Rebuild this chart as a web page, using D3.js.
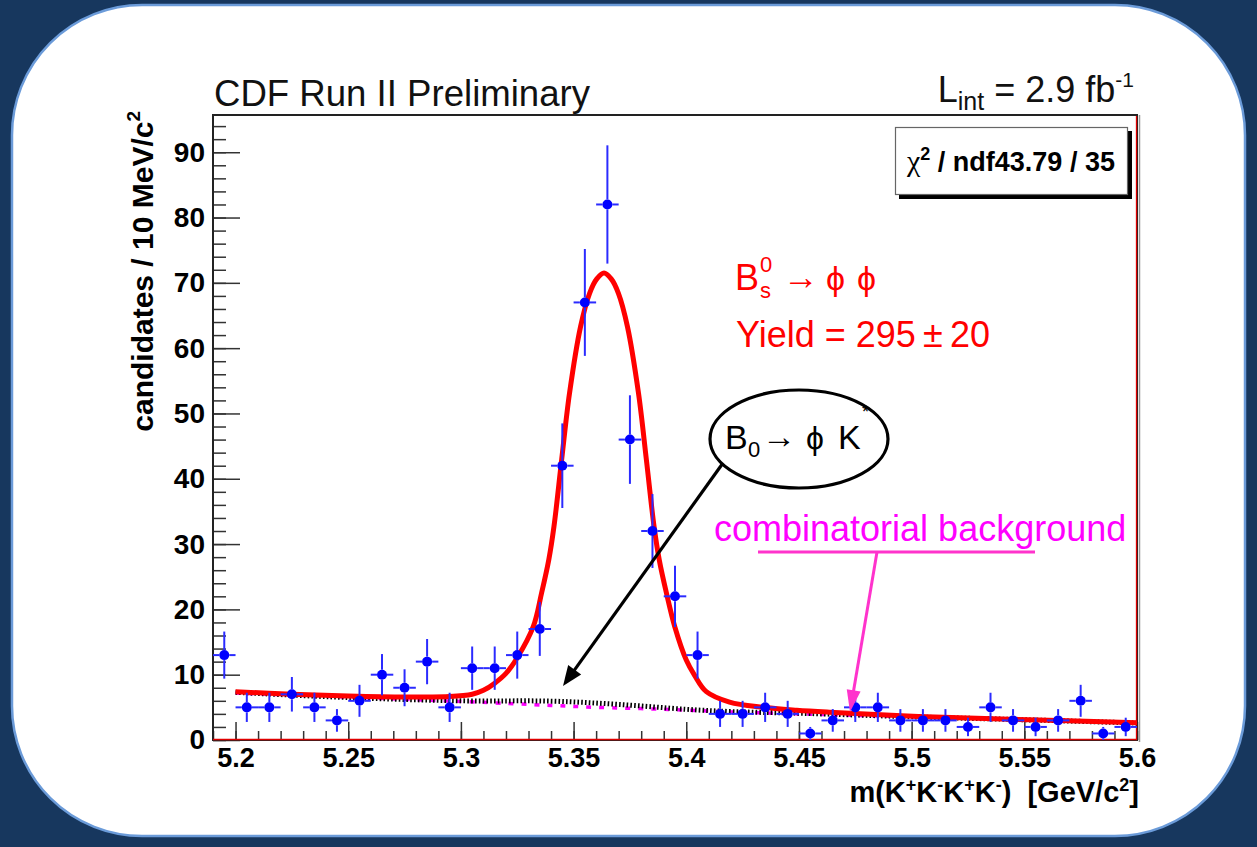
<!DOCTYPE html>
<html>
<head>
<meta charset="utf-8">
<script src="https://cdn.jsdelivr.net/npm/d3@7"></script>
<style>
  html, body { margin: 0; padding: 0; background: #17375e; }
  svg { display: block; }
  text { font-family: "Liberation Sans", Arial, Helvetica, sans-serif; }
</style>
</head>
<body>
<svg id="chart" width="1257" height="847"></svg>
<script>
// ---- histogram: Bs -> phi phi candidates, 10 MeV/c^2 bins ----
const binCenters = [5.195, 5.205, 5.215, 5.225, 5.235, 5.245, 5.255, 5.265, 5.275, 5.285,
                    5.295, 5.305, 5.315, 5.325, 5.335, 5.345, 5.355, 5.365, 5.375, 5.385,
                    5.395, 5.405, 5.415, 5.425, 5.435, 5.445, 5.455, 5.465, 5.475, 5.485,
                    5.495, 5.505, 5.515, 5.525, 5.535, 5.545, 5.555, 5.565, 5.575, 5.585,
                    5.595];
const counts = [13, 5, 5, 7, 5, 3, 6, 10, 8, 12,
                5, 11, 11, 13, 17, 42, 67, 82, 46, 32,
                22, 13, 4, 4, 5, 4, 1, 3, 5, 5,
                3, 3, 3, 2, 5, 3, 2, 3, 6, 1,
                2];
const binHalfWidth = 0.005;

// ---- total fit (signal + reflection + combinatorial) ----
const fitMass = [5.200, 5.225, 5.250, 5.275, 5.295, 5.305, 5.310, 5.315, 5.320, 5.325,
                 5.3321, 5.3358, 5.3390, 5.3413, 5.3447, 5.3482, 5.3531, 5.3571, 5.3603, 5.3635,
                 5.3667, 5.3699, 5.3739, 5.3788, 5.3823, 5.3857, 5.3880, 5.3912, 5.3949, 5.4000,
                 5.4037, 5.4089, 5.4192, 5.434, 5.449, 5.4635, 5.503, 5.5475, 5.600];
const fitTotal = [7.4, 7.0, 6.75, 6.6, 6.65, 7.0, 7.6, 8.7, 10.2, 12.6,
                  17.35, 22.5, 27.6, 32.7, 42.9, 53.1, 63.3, 68.4, 70.6, 71.5,
                  70.6, 68.4, 63.3, 53.1, 42.9, 32.7, 27.6, 22.5, 17.35, 12.25,
                  9.9, 7.4, 5.8, 5.0, 4.55, 4.25, 3.6, 3.15, 2.65];

// ---- B0 -> phi K* reflection stacked on combinatorial ----
const bkgMass = [5.20, 5.25, 5.30, 5.34, 5.37, 5.40, 5.42, 5.45, 5.50, 5.55, 5.60];
const bkgTotal = [7.3, 6.5, 6.0, 5.95, 5.45, 4.7, 4.35, 4.1, 3.55, 3.1, 2.6];

// ---- combinatorial background alone ----
const combMass = [5.20, 5.30, 5.34, 5.36, 5.39, 5.42, 5.45, 5.50, 5.55, 5.60];
const combValues = [7.2, 5.9, 5.3, 5.0, 4.7, 4.3, 4.0, 3.55, 3.1, 2.6];

// ---- axis ticks ----
const xMajorTicks = [5.2, 5.25, 5.3, 5.35, 5.4, 5.45, 5.5, 5.55, 5.6];
const xTickLabels = ["5.2", "5.25", "5.3", "5.35", "5.4", "5.45", "5.5", "5.55", "5.6"];
const yMajorTicks = [0, 10, 20, 30, 40, 50, 60, 70, 80, 90];

// ---------------------------------------------------------------
const W = 1257, H = 847;
const P = { left: 213, right: 1137, top: 115, bottom: 740 };
const FONT = '"Liberation Sans", Arial, Helvetica, sans-serif';
const SYMFONT = '"DejaVu Sans", sans-serif';

const svg = d3.select("#chart");

// slide backdrop
svg.append("rect").attr("width", W).attr("height", H).attr("fill", "#17375e");
svg.append("rect")
  .attr("x", 12).attr("y", 5).attr("width", 1233).attr("height", 831)
  .attr("rx", 130).attr("ry", 130)
  .attr("fill", "#ffffff").attr("stroke", "#6b9bd9").attr("stroke-width", 2.5);

const x = d3.scaleLinear().domain([5.19, 5.6]).range([P.left, P.right]);
const y = d3.scaleLinear().domain([0, 95.7]).range([P.bottom, P.top]);

// ---- ticks (drawn inward) ----
const xMinor = d3.range(5.19, 5.6001, 0.01).map(v => +v.toFixed(3));
const yMinor = d3.range(0, 95, 2);

const xAxisMinor = d3.axisBottom(x).tickValues(xMinor).tickSizeInner(-9).tickSizeOuter(0).tickFormat("");
const xAxis = d3.axisBottom(x).tickValues(xMajorTicks).tickSizeInner(-18).tickSizeOuter(0)
  .tickPadding(8).tickFormat((d, i) => xTickLabels[i]);
const yAxisMinor = d3.axisLeft(y).tickValues(yMinor).tickSizeInner(-13).tickSizeOuter(0).tickFormat("");
const yAxis = d3.axisLeft(y).tickValues(yMajorTicks).tickSizeInner(-27).tickSizeOuter(0)
  .tickPadding(8).tickFormat(d3.format("d"));

function styleAxis(g, size) {
  g.select(".domain").remove();
  g.selectAll(".tick line").attr("stroke", "#333").attr("stroke-width", 1.5);
  g.selectAll(".tick text")
    .attr("fill", "#000").attr("font-family", FONT)
    .attr("font-weight", "bold").attr("font-size", size);
}

svg.append("g").attr("transform", `translate(0,${P.bottom})`).call(xAxisMinor).call(styleAxis, 27);
svg.append("g").attr("transform", `translate(0,${P.bottom})`).call(xAxis).call(styleAxis, 27);
svg.append("g").attr("transform", `translate(${P.left},0)`).call(yAxisMinor).call(styleAxis, 28);
svg.append("g").attr("transform", `translate(${P.left},0)`).call(yAxis).call(styleAxis, 28);

// ---- frame ----
svg.append("line").attr("x1", P.right + 2.5).attr("x2", P.right + 2.5)
  .attr("y1", P.top).attr("y2", P.bottom + 2).attr("stroke", "#999").attr("stroke-width", 1.5);
svg.append("rect")
  .attr("x", P.left).attr("y", P.top)
  .attr("width", P.right - P.left).attr("height", P.bottom - P.top)
  .attr("fill", "none").attr("stroke", "#222").attr("stroke-width", 2);
svg.append("line").attr("x1", P.right - 0.5).attr("x2", P.right - 0.5)
  .attr("y1", P.top + 1).attr("y2", P.bottom).attr("stroke", "#e00000").attr("stroke-width", 1.3);
svg.append("line").attr("x1", P.left).attr("x2", P.right)
  .attr("y1", P.bottom - 0.5).attr("y2", P.bottom - 0.5).attr("stroke", "#e00000").attr("stroke-width", 1.3);

// ---- fit components ----
const line = d3.line().x(d => x(d[0])).y(d => y(d[1])).curve(d3.curveCatmullRom.alpha(0.5));

svg.append("path")
  .datum(d3.zip(combMass, combValues))
  .attr("d", line).attr("fill", "none")
  .attr("stroke", "#ff00ff").attr("stroke-width", 3.5).attr("stroke-dasharray", "5,8");

svg.append("path")
  .datum(d3.zip(bkgMass, bkgTotal))
  .attr("d", line).attr("fill", "none")
  .attr("stroke", "#000").attr("stroke-width", 5).attr("stroke-dasharray", "1.6,2.2");

svg.append("path")
  .datum(d3.zip(fitMass, fitTotal))
  .attr("d", line).attr("fill", "none")
  .attr("stroke", "#ff0000").attr("stroke-width", 5).attr("stroke-linejoin", "round");

// ---- data points with Poisson errors ----
const pts = svg.append("g");
const gap = 5;
binCenters.forEach((m, i) => {
  const n = counts[i];
  const err = Math.sqrt(n);
  const cx = x(m), cy = y(n);
  const yTop = y(n + err), yBot = y(Math.max(0, n - err));
  const xL = x(m - binHalfWidth), xR = x(m + binHalfWidth);
  const g = pts.append("g").attr("stroke", "#2b2bff").attr("stroke-width", 2);
  g.append("line").attr("x1", cx).attr("x2", cx).attr("y1", yTop).attr("y2", cy - gap);
  g.append("line").attr("x1", cx).attr("x2", cx).attr("y1", cy + gap).attr("y2", yBot);
  g.append("line").attr("x1", xL).attr("x2", cx - gap).attr("y1", cy).attr("y2", cy);
  g.append("line").attr("x1", cx + gap).attr("x2", xR).attr("y1", cy).attr("y2", cy);
  pts.append("circle").attr("cx", cx).attr("cy", cy).attr("r", 5).attr("fill", "#0000ff");
});

// ---- titles ----
svg.append("text").attr("x", 214).attr("y", 106)
  .attr("font-size", 36.6).attr("fill", "#111").text("CDF Run II Preliminary");

const lum = svg.append("text").attr("x", 1134).attr("y", 102)
  .attr("text-anchor", "end").attr("font-size", 36).attr("fill", "#111");
lum.append("tspan").text("L");
lum.append("tspan").attr("font-size", 25).attr("dy", 8).text("int");
lum.append("tspan").attr("dy", -8).text(" = 2.9 fb");
lum.append("tspan").attr("font-size", 21).attr("dy", -15).text("-1");

// y axis title
const yt = svg.append("text")
  .attr("transform", "translate(153,111) rotate(-90)")
  .attr("text-anchor", "end").attr("font-size", 30).attr("font-weight", "bold").attr("fill", "#000");
yt.append("tspan").text("candidates / 10 MeV/c");
yt.append("tspan").attr("font-size", 19).attr("dy", -13).text("2");

// x axis title
const SUP = 18, UP = 11;
const xt = svg.append("text").attr("x", 1139).attr("y", 802)
  .attr("text-anchor", "end").attr("font-size", 29).attr("font-weight", "bold").attr("fill", "#000");
xt.append("tspan").text("m(K");
xt.append("tspan").attr("font-size", SUP).attr("dy", -UP).text("+");
xt.append("tspan").attr("dy", UP).text("K");
xt.append("tspan").attr("font-size", SUP).attr("dy", -UP).text("-");
xt.append("tspan").attr("dy", UP).text("K");
xt.append("tspan").attr("font-size", SUP).attr("dy", -UP).text("+");
xt.append("tspan").attr("dy", UP).text("K");
xt.append("tspan").attr("font-size", SUP).attr("dy", -UP).text("-");
xt.append("tspan").attr("dy", UP).text(")\u00a0\u00a0[GeV/c");
xt.append("tspan").attr("font-size", SUP).attr("dy", -UP).text("2");
xt.append("tspan").attr("dy", UP).text("]");

// ---- fit statistics box ----
svg.append("rect").attr("x", 899).attr("y", 131).attr("width", 233).attr("height", 68).attr("fill", "#000");
svg.append("rect").attr("x", 895.5).attr("y", 127.5).attr("width", 232).attr("height", 67)
  .attr("fill", "#fff").attr("stroke", "#666").attr("stroke-width", 1.2);
const chi = svg.append("text").attr("x", 907).attr("y", 171).attr("font-size", 27).attr("fill", "#000");
chi.append("tspan").attr("font-family", '"Liberation Serif", "Times New Roman", serif')
  .attr("font-size", 30).text("\u03c7");
chi.append("tspan").attr("font-size", 18).attr("font-weight", "bold").attr("dy", -11).text("2");
chi.append("tspan").attr("font-weight", "bold").attr("dy", 11).text(" / ndf43.79 / 35");

// ---- signal label ----
const RED = "#ff0000";
svg.append("text").attr("x", 735).attr("y", 290).attr("font-size", 36).attr("fill", RED).text("B");
svg.append("text").attr("x", 760).attr("y", 272).attr("font-size", 22).attr("fill", RED).text("0");
svg.append("text").attr("x", 760).attr("y", 298).attr("font-size", 22).attr("fill", RED).text("s");
svg.append("text").attr("x", 783).attr("y", 289).attr("font-family", SYMFONT)
  .attr("font-size", 36).attr("fill", RED).text("\u2192");
svg.append("text").attr("x", 826).attr("y", 290).attr("font-family", SYMFONT)
  .attr("font-size", 34).attr("fill", RED).text("\u03d5");
svg.append("text").attr("x", 857).attr("y", 290).attr("font-family", SYMFONT)
  .attr("font-size", 34).attr("fill", RED).text("\u03d5");
svg.append("text").attr("x", 736).attr("y", 347).attr("font-size", 36).attr("fill", RED)
  .text("Yield = 295\u2009\u00b1\u200920");

// ---- arrows ----
function arrow(x1, y1, x2, y2, color, width, headLen, headHalf) {
  const a = Math.atan2(y2 - y1, x2 - x1);
  const bx = x2 - headLen * Math.cos(a), by = y2 - headLen * Math.sin(a);
  svg.append("line").attr("x1", x1).attr("y1", y1).attr("x2", bx + 2 * Math.cos(a)).attr("y2", by + 2 * Math.sin(a))
    .attr("stroke", color).attr("stroke-width", width);
  const px = -Math.sin(a) * headHalf, py = Math.cos(a) * headHalf;
  svg.append("polygon")
    .attr("points", `${x2},${y2} ${bx + px},${by + py} ${bx - px},${by - py}`)
    .attr("fill", color);
}

// reflection callout
arrow(723, 463, 563, 686, "#000", 3.2, 20, 8);
svg.append("ellipse").attr("cx", 799).attr("cy", 439).attr("rx", 89).attr("ry", 49)
  .attr("fill", "#fff").attr("stroke", "#000").attr("stroke-width", 3.2);
svg.append("text").attr("x", 725).attr("y", 449).attr("font-size", 34).attr("fill", "#000").text("B");
svg.append("text").attr("x", 748).attr("y", 457).attr("font-size", 22).attr("fill", "#000").text("0");
svg.append("text").attr("x", 762).attr("y", 448).attr("font-family", SYMFONT)
  .attr("font-size", 34).attr("fill", "#000").text("\u2192");
svg.append("text").attr("x", 806).attr("y", 449).attr("font-family", SYMFONT)
  .attr("font-size", 32).attr("fill", "#000").text("\u03d5");
svg.append("text").attr("x", 838).attr("y", 449).attr("font-size", 34).attr("fill", "#000").text("K");
svg.append("text").attr("x", 862).attr("y", 418).attr("font-size", 18).attr("fill", "#000").text("*");

// combinatorial callout
const PINK = "#ff33cc";
svg.append("text").attr("x", 714).attr("y", 541).attr("font-size", 36).attr("fill", "#ff00ff")
  .text("combinatorial background");
svg.append("line").attr("x1", 758).attr("x2", 1035).attr("y1", 552).attr("y2", 552)
  .attr("stroke", PINK).attr("stroke-width", 3);
arrow(877, 552, 850, 712, PINK, 3, 22, 7);
</script>
</body>
</html>
